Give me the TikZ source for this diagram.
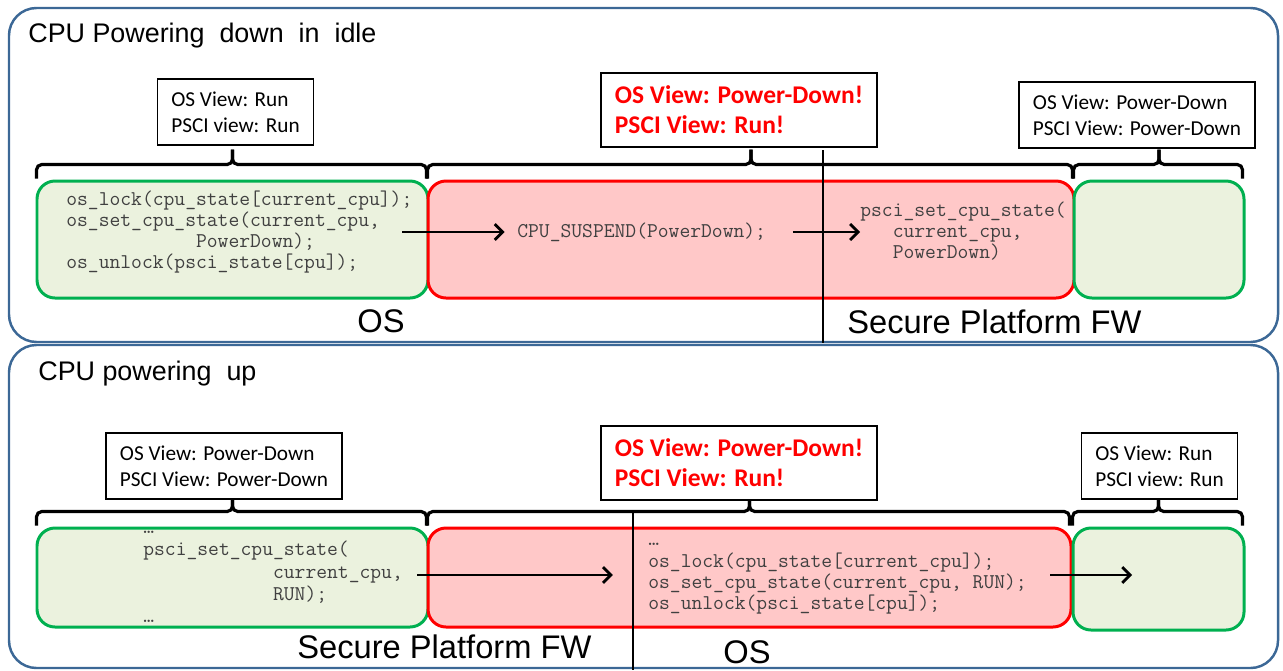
\documentclass[tikz,border=0pt]{standalone}
\usepackage{fontspec}
\setmainfont{Liberation Sans}
\newfontfamily\calibri{Carlito}
\usepackage{tikz}
\usetikzlibrary{arrows.meta, fit, calc}
\definecolor{panelblue}{RGB}{60,104,150}
\definecolor{osgreen}{RGB}{0,176,80}
\definecolor{osfill}{RGB}{235,242,222}
\definecolor{fwred}{RGB}{255,0,0}
\definecolor{fwfill}{RGB}{255,200,200}
\definecolor{codegray}{RGB}{64,64,64}

% indent by n monospace characters
\newcommand{\cind}[1]{\hspace*{#1\fontcharwd\font`x}}
% curly brace over the top edge of a box
\newcommand{\spanbrace}[1]{%
  \coordinate (#1-tip) at ($(#1.north)+(0,-30)$);
  \draw[brace] ($(#1.north west)+(1,-1)$) |- ($(#1.north)+(0,-15)$) -- (#1-tip);
  \draw[brace] ($(#1.north east)+(-3,-1)$) |- ($(#1.north)+(0,-15)$) -- (#1-tip);}

\begin{document}
\begin{tikzpicture}[
  x=0.02cm, y=-0.02cm,
  panel/.style={draw=panelblue, line width=1.4pt, rounded corners=0.55cm, inner sep=0},
  osbox/.style={draw=osgreen, line width=1.7pt, fill=osfill, rounded corners=0.36cm, inner sep=0},
  fwbox/.style={draw=fwred, line width=1.7pt, fill=fwfill, rounded corners=0.36cm, inner sep=0},
  view/.style={
    rectangle, draw, line width=0.8pt, fill=white,
    align=left, inner xsep=8pt, minimum height=1.32cm,
    font=\calibri\fontsize{12.1}{14.8}\selectfont
  },
  alert/.style={
    view, minimum height=1.48cm, text=fwred,
    font=\calibri\bfseries\fontsize{14.5}{17}\selectfont
  },
  code/.style={anchor=west, align=left, inner sep=0, text=codegray,
    font=\ttfamily\fontsize{11.95}{12.1}\selectfont},
  title/.style={anchor=base west, inner sep=0, font=\fontsize{15.3}{18}\selectfont},
  side/.style={inner sep=0, font=\fontsize{18.6}{21}\selectfont},
  arrow/.style={-{Straight Barb[length=4.5pt, width=9pt]}, line width=1.6pt},
  brace/.style={line width=1.8pt, rounded corners=3pt},
  divider/.style={line width=1.6pt}
]
\useasboundingbox (0,0) rectangle (1283,670);

% ---- powering down ----
\node[panel, fit={(9,8) (1278,342)}] (dn) {};
\node[title] (dntitle) at (28,42) {CPU Powering\ \ down\ \ in\ \ idle};

\node[osbox, fit={(37,181) (428,298)}] (dnos) {};
\node[fwbox, fit={(428,181) (1074,298)}] (dnfw) {};
\node[osbox, fit={(1074,181) (1244,298)}] (dnoff) {};

\spanbrace{dnos}
\spanbrace{dnfw}
\spanbrace{dnoff}

\node[view] (vdnos) at (235.5,112) {OS View: Run\\PSCI view: Run};
\node[alert] (vdnfw) at (739,110) {OS View: Power-Down!\\PSCI View: Run!};
\node[view] (vdnoff) at (1137,115) {OS View: Power-Down\\PSCI View: Power-Down};

\node[code] (lockdn) at (66,232)
  {os\_lock(cpu\_state[current\_cpu]);\\
   os\_set\_cpu\_state(current\_cpu,\\
   \cind{12}PowerDown);\\
   os\_unlock(psci\_state[cpu]);};
\node[code] (suspend) at (517,232) {CPU\_SUSPEND(PowerDown);};
\node[code] (setdn) at (860,231)
  {psci\_set\_cpu\_state(\\
   \cind{3}current\_cpu,\\
   \cind{3}PowerDown)};

\draw[arrow] ([xshift=-6pt]lockdn.east) -- ([xshift=-7pt]suspend.west);
\draw[arrow] ([xshift=15pt]suspend.east) -- (setdn.west |- suspend.east);

\coordinate (dncut) at (823,150);
\draw[divider] (dncut) -- (dncut |- dn.south);

\node[side, anchor=base] (dnoslbl) at (381,332) {OS};
\node[side, anchor=base west] (dnfwlbl) at (847,333) {Secure Platform FW};

% ---- powering up ----
\node[panel, fit={(9,345) (1278,668)}] (up) {};
\node[title] (uptitle) at (38,380) {CPU powering\ \ up};

\node[osbox, fit={(37,528) (428,627)}] (upfw) {};
\node[fwbox, fit={(428,528) (1071,627)}] (upos) {};
\node[osbox, fit={(1073,528) (1244,630)}] (uprun) {};

\spanbrace{upfw}
\spanbrace{upos}
\spanbrace{uprun}

\node[view] (vupfw) at (224,466) {OS View: Power-Down\\PSCI View: Power-Down};
\node[alert] (vupos) at (739,463) {OS View: Power-Down!\\PSCI View: Run!};
\node[view] (vuprun) at (1159.5,466) {OS View: Run\\PSCI view: Run};

\node[code, font=\ttfamily\fontsize{11.95}{12.7}\selectfont] (setup) at (143,577)
  {…\\
   psci\_set\_cpu\_state(\\
   \cind{12}current\_cpu,\\
   \cind{12}RUN);\\
   …};
\node[code] (lockup) at (648,579)
  {…\\
   os\_lock(cpu\_state[current\_cpu]);\\
   os\_set\_cpu\_state(current\_cpu, RUN);\\
   os\_unlock(psci\_state[cpu]);};

\coordinate (upmid) at (0,575);
\draw[arrow] ([xshift=8pt]setup.east |- upmid) -- ([xshift=-20pt]lockup.west |- upmid);
\draw[arrow] ([xshift=13pt]lockup.east |- upmid) -- ([xshift=-15pt]uprun.center |- upmid);

\coordinate (upcut) at (633,513);
\draw[divider] (upcut) -- (upcut |- 0,670);

\node[side, anchor=base west] (upfwlbl) at (297,658) {Secure Platform FW};
\node[side, anchor=base] (uposlbl) at (747,663) {OS};

\end{tikzpicture}
\end{document}
